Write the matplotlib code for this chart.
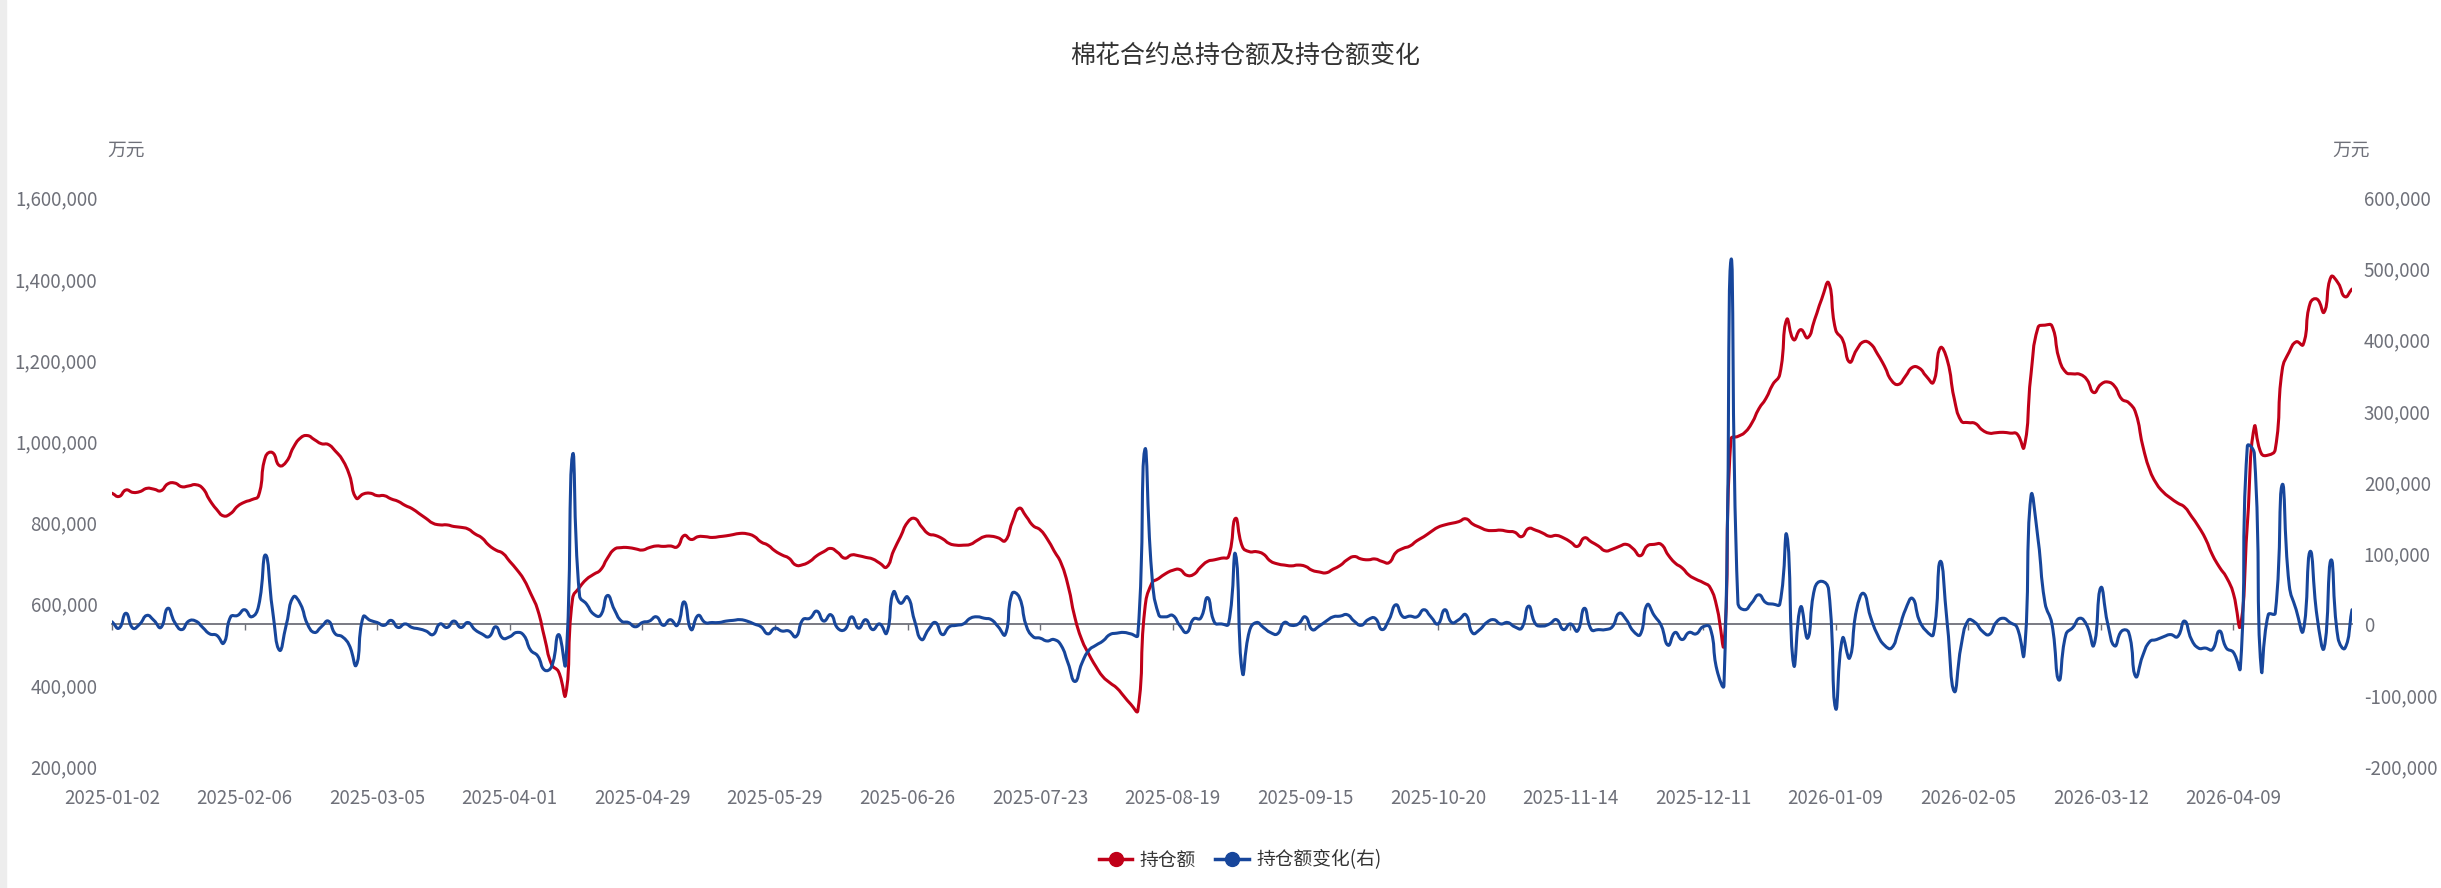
import matplotlib
matplotlib.use('Agg')
import matplotlib.pyplot as plt
from matplotlib.lines import Line2D
from matplotlib.patches import Rectangle, PathPatch
from matplotlib.path import Path
from matplotlib.ticker import FuncFormatter
import numpy as np

plt.rcParams['font.family'] = ['Noto Sans CJK SC', 'DejaVu Sans']

title = '棉花合约总持仓额及持仓额变化'
unit = '万元'
series_names = ['持仓额', '持仓额变化(右)']
tick_labels = ['2025-01-02', '2025-02-06', '2025-03-05', '2025-04-01', '2025-04-29',
               '2025-05-29', '2025-06-26', '2025-07-23', '2025-08-19', '2025-09-15',
               '2025-10-20', '2025-11-14', '2025-12-11', '2026-01-09', '2026-02-05',
               '2026-03-12', '2026-04-09']
tick_step = 19  # trading days between labelled categories

# 持仓额 (万元), left axis
hold = [
    872000, 864000, 880000, 874000, 876000, 884000, 882000, 878000, 895000, 897000,
    888000, 890000, 893000, 884000, 855000, 832000, 816000, 822000, 840000, 850000,
    856000, 866000, 962000, 972000, 940000, 950000, 985000, 1008000, 1014000, 1004000,
    994000, 992000, 976000, 955000, 918000, 860000, 870000, 872000, 866000, 866000,
    858000, 852000, 842000, 834000, 822000, 810000, 798000, 794000, 794000, 790000,
    788000, 784000, 772000, 762000, 744000, 732000, 724000, 704000, 684000, 660000,
    625000, 585000, 515000, 450000, 432000, 375000, 612000, 640000, 660000, 672000,
    683000, 712000, 734000, 738000, 738000, 735000, 732000, 738000, 742000, 741000,
    742000, 740000, 768000, 758000, 765000, 765000, 763000, 765000, 767000, 770000,
    773000, 772000, 766000, 752000, 744000, 730000, 720000, 712000, 695000, 696000,
    704000, 718000, 728000, 736000, 726000, 712000, 720000, 718000, 714000, 710000,
    700000, 690000, 730000, 765000, 800000, 810000, 790000, 772000, 768000, 760000,
    748000, 744000, 744000, 746000, 756000, 765000, 766000, 762000, 755000, 800000,
    835000, 815000, 792000, 782000, 760000, 730000, 700000, 645000, 565000, 510000,
    475000, 445000, 420000, 405000, 392000, 372000, 352000, 336000, 585000, 650000,
    662000, 674000, 682000, 684000, 670000, 672000, 690000, 704000, 708000, 712000,
    716000, 810000, 740000, 728000, 728000, 722000, 705000, 698000, 695000, 693000,
    695000, 692000, 682000, 678000, 676000, 685000, 694000, 708000, 716000, 710000,
    708000, 710000, 704000, 701000, 726000, 736000, 742000, 755000, 765000, 777000,
    788000, 794000, 798000, 802000, 809000, 796000, 788000, 781000, 780000, 781000,
    778000, 776000, 765000, 785000, 781000, 774000, 766000, 768000, 762000, 752000,
    741000, 762000, 752000, 742000, 730000, 734000, 741000, 746000, 735000, 718000,
    742000, 746000, 746000, 720000, 700000, 688000, 670000, 660000, 652000, 640000,
    590000, 500000, 1005000, 1012000, 1022000, 1045000, 1080000, 1105000, 1140000, 1165000,
    1300000, 1250000, 1275000, 1255000, 1300000, 1350000, 1390000, 1275000, 1250000, 1195000,
    1225000, 1245000, 1240000, 1215000, 1185000, 1150000, 1140000, 1160000, 1182000, 1180000,
    1160000, 1145000, 1230000, 1200000, 1105000, 1050000, 1046000, 1044000, 1028000, 1020000,
    1021000, 1022000, 1020000, 1018000, 985000, 1165000, 1280000, 1286000, 1284000, 1205000,
    1170000, 1166000, 1165000, 1152000, 1120000, 1140000, 1146000, 1135000, 1104000, 1095000,
    1070000, 990000, 930000, 895000, 874000, 860000, 848000, 838000, 815000, 790000,
    760000, 720000, 690000, 665000, 625000, 545000, 795000, 1035000, 970000, 966000,
    980000, 1176000, 1220000, 1245000, 1238000, 1340000, 1350000, 1318000, 1405000, 1390000,
    1356000, 1375000,
]

# 持仓额变化 (万元), right axis
change = [
    3000, -6000, 15000, -6000, 0, 12000, 5000, -5000, 22000, 2000,
    -8000, 4000, 4000, -5000, -14000, -16000, -27000, 10000, 12000, 20000,
    10000, 25000, 97000, 20000, -37000, 0, 38000, 28000, 0, -12000,
    -4000, 4000, -14000, -18000, -30000, -58000, 10000, 5000, 2000, -2000,
    5000, -5000, 0, -5000, -7000, -10000, -15000, 0, -5000, 4000,
    -5000, 2000, -8000, -14000, -18000, -4000, -20000, -18000, -12000, -16000,
    -37000, -45000, -65000, -60000, -15000, -57000, 238000, 40000, 28000, 14000,
    12000, 40000, 20000, 4000, 2000, -4000, 2000, 4000, 10000, -2000,
    6000, -2000, 31000, -8000, 12000, 2000, 2000, 2000, 4000, 5000,
    6000, 4000, 0, -4000, -14000, -6000, -10000, -10000, -18000, 6000,
    8000, 18000, 4000, 13000, -6000, -8000, 10000, -6000, 6000, -8000,
    0, -13000, 45000, 29000, 38000, 5000, -22000, -8000, 2000, -15000,
    -4000, -2000, 0, 8000, 10000, 8000, 6000, -4000, -15000, 43000,
    38000, -2000, -18000, -20000, -24000, -22000, -30000, -55000, -81000, -55000,
    -37000, -30000, -24000, -15000, -13000, -12000, -14000, -16000, 245000, 72000,
    13000, 10000, 12000, -2000, -12000, 7000, 8000, 37000, 2000, 0,
    0, 98000, -69000, -10000, 2000, -5000, -12000, -14000, 2000, -2000,
    0, 10000, -8000, -3000, 4000, 10000, 11000, 13000, 4000, -2000,
    6000, 8000, -8000, 6000, 27000, 10000, 11000, 10000, 20000, 10000,
    0, 20000, 2000, 6000, 13000, -13000, -8000, 2000, 6000, 0,
    2000, -4000, -6000, 25000, 0, -3000, 0, 6000, -8000, 0,
    -10000, 22000, -8000, -8000, -8000, -4000, 15000, 6000, -10000, -15000,
    27000, 12000, -2000, -30000, -12000, -22000, -12000, -14000, -4000, -5000,
    -65000, -86000, 512000, 30000, 20000, 30000, 41000, 30000, 28000, 28000,
    125000, -58000, 24000, -20000, 50000, 60000, 48000, -119000, -20000, -48000,
    20000, 43000, 10000, -15000, -30000, -34000, -10000, 20000, 36000, 5000,
    -10000, -15000, 88000, 0, -95000, -30000, 5000, 2000, -10000, -15000,
    2000, 8000, 2000, -5000, -43000, 180000, 120000, 30000, 0, -79000,
    -15000, -5000, 8000, -2000, -30000, 51000, 0, -31000, -10000, -12000,
    -74000, -45000, -25000, -22000, -18000, -15000, -18000, 4000, -22000, -34000,
    -34000, -36000, -10000, -34000, -40000, -62000, 250000, 240000, -64000, 13000,
    15000, 196000, 55000, 20000, -10000, 102000, 10000, -34000, 90000, -20000,
    -34000, 20000,
]

RED = '#C00018'
BLUE = '#17469B'
GRAY = '#6E7079'
W, H = 2441, 888


def smooth_path(axis, xs, ys, smooth=0.5):
    """Curve through every data point, control points weighted by segment length
    in screen space (the way smoothed line series are drawn in web charts)."""
    pts = axis.transData.transform(np.column_stack([np.asarray(xs, float),
                                                    np.asarray(ys, float)]))
    n_pts = len(pts)
    cp_in = np.empty_like(pts)
    cp_out = np.empty_like(pts)
    for i in range(n_pts):
        p = pts[i]
        prv = pts[i - 1] if i > 0 else p
        nxt = pts[i + 1] if i < n_pts - 1 else p
        v = nxt - prv
        d0 = np.hypot(*(p - prv))
        d1 = np.hypot(*(nxt - p))
        tot = d0 + d1
        r = d1 / tot if tot > 0 else 0.5
        cp_out[i] = p + v * smooth * r
        cp_in[i] = p - v * smooth * (1 - r)
    verts = [pts[0]]
    codes = [Path.MOVETO]
    for i in range(n_pts - 1):
        verts += [cp_out[i], cp_in[i + 1], pts[i + 1]]
        codes += [Path.CURVE4] * 3
    verts = axis.transData.inverted().transform(np.array(verts))
    return Path(verts, codes)


fig = plt.figure(figsize=(W / 100, H / 100), dpi=100)
fig.patches.append(Rectangle((0, 0), 6 / W, 1, transform=fig.transFigure,
                             color='#EDEDED', zorder=0))

left_px, right_px, top_px, bot_px = 112, 2352, 197.7, 766
ax = fig.add_axes([left_px / W, 1 - bot_px / H, (right_px - left_px) / W,
                   (bot_px - top_px) / H])
ax2 = ax.twinx()

x_hold = np.arange(len(hold))
x_change = np.arange(len(change))
n = max(len(hold), len(change))

ax.set_xlim(0, n - 1)
ax.set_ylim(200000, 1600000)
ax2.set_xlim(0, n - 1)
ax2.set_ylim(-200000, 600000)

ax.add_patch(PathPatch(smooth_path(ax, x_hold, hold), facecolor='none', edgecolor=RED,
                       lw=2.2, joinstyle='round', capstyle='round', zorder=3))
ax2.add_patch(PathPatch(smooth_path(ax2, x_change, change), facecolor='none',
                        edgecolor=BLUE, lw=2.2, joinstyle='round', capstyle='round',
                        zorder=3))

for a in (ax, ax2):
    for s in a.spines.values():
        s.set_visible(False)

fmt = FuncFormatter(lambda v, p: f'{v:,.0f}')
ax.set_yticks(np.arange(200000, 1600001, 200000))
ax.yaxis.set_major_formatter(fmt)
ax2.set_yticks(np.arange(-200000, 600001, 100000))
ax2.yaxis.set_major_formatter(fmt)
ax.tick_params(axis='y', length=0, pad=10.5, labelsize=13.5, labelcolor=GRAY)
ax2.tick_params(axis='y', length=0, pad=8.5, labelsize=13.5, labelcolor=GRAY)

tick_pos = np.arange(len(tick_labels)) * tick_step
ax.set_xticks(tick_pos)
ax.set_xticklabels(tick_labels)
ax.tick_params(axis='x', length=0, pad=16, labelsize=13.5, labelcolor=GRAY)

# category axis line drawn at the zero of the right axis
zero_frac = (0 - (-200000)) / (600000 - (-200000))
sec = ax.secondary_xaxis(zero_frac)
sec.set_xticks(tick_pos)
sec.tick_params(axis='x', length=4, width=1, color=GRAY, labelbottom=False,
                labeltop=False, direction='out')
for name, s in sec.spines.items():
    if name == 'bottom':
        s.set_color(GRAY)
        s.set_linewidth(1.3)
    else:
        s.set_visible(False)

fig.text(0.51, 1 - 56 / H, title, ha='center', va='center', fontsize=18,
         color='#333333')
fig.text(126 / W, 1 - 150 / H, unit, ha='center', va='center', fontsize=13.5, color=GRAY)
fig.text(2351 / W, 1 - 150 / H, unit, ha='center', va='center', fontsize=13.5, color=GRAY)

handles = [Line2D([], [], color=RED, lw=2.5, marker='o', markersize=10),
           Line2D([], [], color=BLUE, lw=2.5, marker='o', markersize=10)]
fig.legend(handles, series_names, loc='center', bbox_to_anchor=(1240 / W, 1 - 860 / H),
           ncol=2, frameon=False, fontsize=13.5, handlelength=1.8, columnspacing=1.0,
           handletextpad=0.4, labelcolor='#333333')

fig.savefig('out.png', dpi=100, facecolor='white')
